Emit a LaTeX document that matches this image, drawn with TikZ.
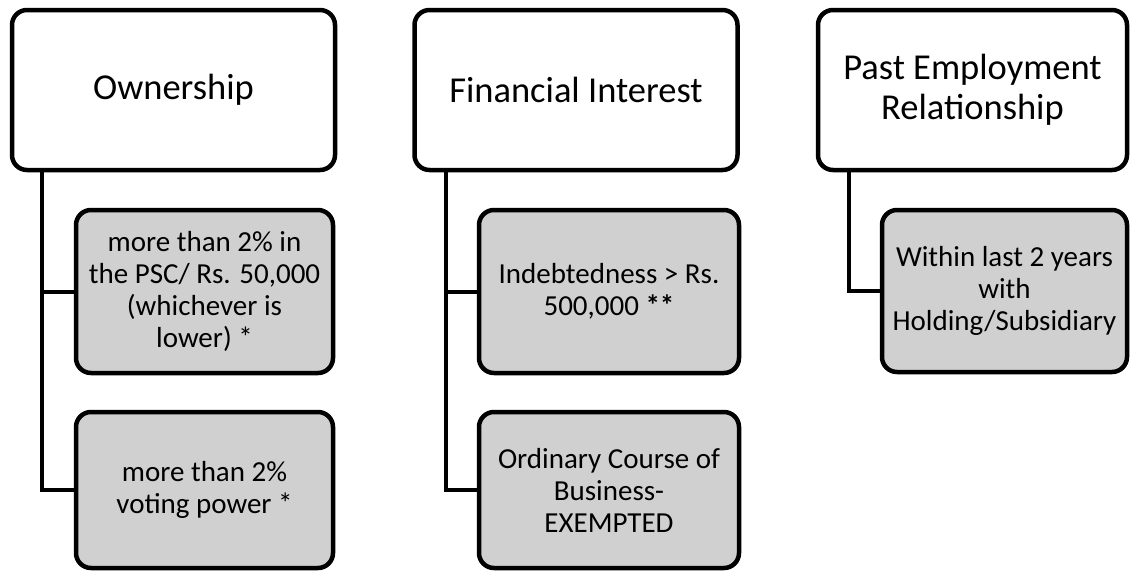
\documentclass[tikz,border=0pt]{standalone}
\usepackage{fontspec}
\setmainfont{Carlito}
\usepackage{tikz}

\definecolor{boxgray}{RGB}{208,208,208}

\begin{document}
\begin{tikzpicture}[x=1pt,y=-1pt,
		topbox/.style={draw, line width=4.5pt, rounded corners=15pt, fill=white,
			inner sep=0pt, align=center, font=\fontsize{36.5}{40}\selectfont},
		subbox/.style={draw, line width=4.5pt, rounded corners=15pt, fill=boxgray,
			inner sep=0pt, align=center, font=\fontsize{29}{32}\selectfont},
		link/.style={line width=4pt}
	]
	\useasboundingbox (0,0) rectangle (1130,571);
	
	% top row
	\node [topbox, minimum width=323pt, minimum height=160pt] (own) at (173.5,90) {Ownership};
	\node [topbox, minimum width=323pt, minimum height=160pt] (fin) at (576,90) {Financial Interest};
	\node [topbox, minimum width=309pt, minimum height=160pt] (past) at (972.5,90) {Past Employment\\Relationship};
	
	% ownership
	\node [subbox, minimum width=257pt, minimum height=163pt] (ownA) at (204.5,291.5)
		{more than 2\% in\\the PSC/ Rs. 50,000\\(whichever is\\lower) *};
	\node [subbox, minimum width=257pt, minimum height=156pt] (ownB) at (204.5,490)
		{more than 2\%\\voting power *};
	
	% financial interest
	\node [subbox, minimum width=260pt, minimum height=163pt] (finA) at (609,291.5)
		{Indebtedness > Rs.\\500,000 \textbf{**}};
	\node [subbox, minimum width=260pt, minimum height=156pt] (finB) at (609,490)
		{Ordinary Course of\\Business-\\EXEMPTED};
	
	% past employment
	\node [subbox, minimum width=245pt, minimum height=162pt] (pastA) at (1004.5,291)
		{Within last 2 years\\with\\Holding/Subsidiary};
	
	% connectors
	\draw [link] ([xshift=32pt]own.south west) |- (ownA.west);
	\draw [link] ([xshift=32pt]own.south west) |- (ownB.west);
	\draw [link] ([xshift=34pt]fin.south west) |- (finA.west);
	\draw [link] ([xshift=34pt]fin.south west) |- (finB.west);
	\draw [link] ([xshift=33pt]past.south west) |- (pastA.west);
\end{tikzpicture}
\end{document}
